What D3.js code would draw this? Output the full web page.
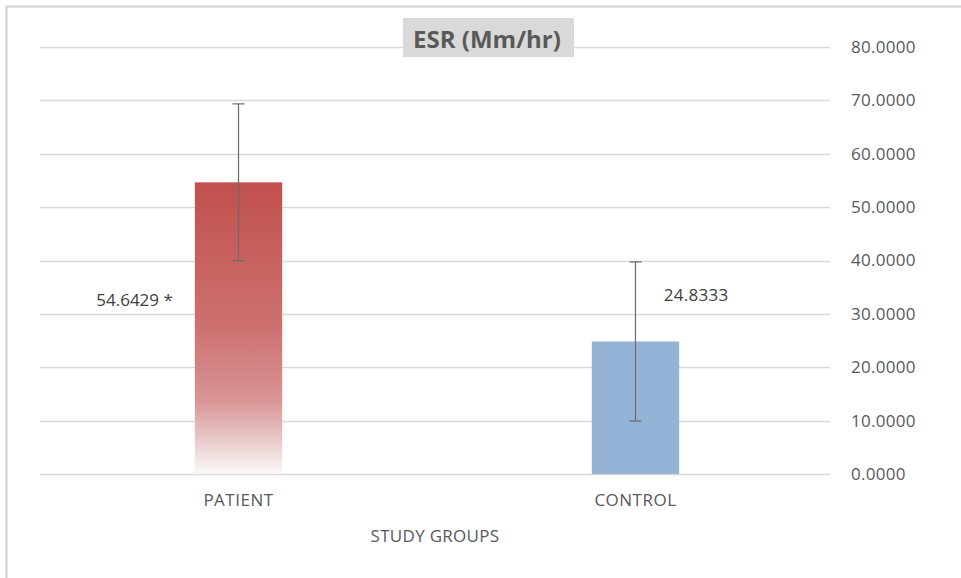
<!DOCTYPE html>
<html><head><meta charset="utf-8">
<script src="https://cdn.jsdelivr.net/npm/d3@7"></script>
<style>body{margin:0;background:#fff}svg{display:block}text{font-family:"Open Sans","Noto Sans",sans-serif}</style>
</head><body>
<svg id="c" width="961" height="578"></svg>
<script>
const categories = ["PATIENT", "CONTROL"];
const means = [54.6429, 24.8333];
const sds = [14.7, 14.9];
const labels = ["54.6429 *", "24.8333"];
const yTicks = [0, 10, 20, 30, 40, 50, 60, 70, 80];
const title = "ESR (Mm/hr)";
const xTitle = "STUDY GROUPS";

(function () {
const svg = d3.select("#c");
const W = 961, H = 578;
const mLeft = 40, mRight = 830, mTop = 47, mBottom = 474;

// outer border (top & left)
svg.append("line").attr("x1", 6).attr("x2", W).attr("y1", 6.5).attr("y2", 6.5).attr("stroke", "#d0d0d0").attr("stroke-width", 2);
svg.append("line").attr("x1", 6.5).attr("x2", 6.5).attr("y1", 6).attr("y2", H).attr("stroke", "#d0d0d0").attr("stroke-width", 2);

const x = d3.scaleBand().domain(categories).range([mLeft + 2, mRight + 2]).paddingInner(0.78).paddingOuter(0.385);
const y = d3.scaleLinear().domain([0, 80]).range([mBottom, mTop]);

// gridlines
svg.append("g").selectAll("line").data(yTicks).join("line")
  .attr("x1", mLeft).attr("x2", mRight)
  .attr("y1", d => Math.round(y(d)) + 0.5).attr("y2", d => Math.round(y(d)) + 0.5)
  .attr("stroke", "#d9d9d9").attr("stroke-width", 1.3);

// right axis labels
const ax = svg.append("g").attr("transform", `translate(${mRight},0)`)
  .call(d3.axisRight(y).tickValues(yTicks).tickFormat(d3.format(".4f")).tickSize(0).tickPadding(21));
ax.select(".domain").remove();
ax.selectAll("text").attr("fill", "#595959").attr("font-size", 17).attr("letter-spacing", 0.3);

// gradient
const defs = svg.append("defs");
const g = defs.append("linearGradient").attr("id", "redgrad").attr("x1", 0).attr("x2", 0).attr("y1", 0).attr("y2", 1);
[["0%", "#c0504d"], ["50%", "#cd7170"], ["75%", "#d99595"], ["90%", "#ead0d0"], ["100%", "#fcf8f8"]]
  .forEach(s => g.append("stop").attr("offset", s[0]).attr("stop-color", s[1]));
const fills = ["url(#redgrad)", "#95b3d7"];

svg.append("g").selectAll("rect").data(categories).join("rect")
  .attr("x", d => x(d)).attr("width", x.bandwidth())
  .attr("y", (d, i) => y(means[i])).attr("height", (d, i) => y(0) - y(means[i]))
  .attr("fill", (d, i) => fills[i]);

// error bars
const eb = svg.append("g").attr("stroke", "#6a6a6a").attr("stroke-width", 1.2);
categories.forEach((c, i) => {
  const cx = x(c) + x.bandwidth() / 2;
  const hi = y(means[i] + sds[i]), lo = y(means[i] - sds[i]);
  eb.append("line").attr("x1", cx).attr("x2", cx).attr("y1", hi).attr("y2", lo);
  eb.append("line").attr("x1", cx - 6).attr("x2", cx + 6).attr("y1", hi).attr("y2", hi);
  eb.append("line").attr("x1", cx - 6).attr("x2", cx + 6).attr("y1", lo).attr("y2", lo);
});

// data labels
svg.append("text").attr("x", x(categories[0]) - 22).attr("y", 306).attr("text-anchor", "end")
  .attr("font-size", 17).attr("fill", "#404040").text(labels[0]);
svg.append("text").attr("x", x(categories[1]) + x.bandwidth() + 17).attr("y", 301).attr("text-anchor", "middle")
  .attr("font-size", 17).attr("fill", "#404040").attr("letter-spacing", 0.3).text(labels[1]);

// category labels
svg.append("g").selectAll("text").data(categories).join("text")
  .attr("x", d => x(d) + x.bandwidth() / 2).attr("y", 506).attr("text-anchor", "middle")
  .attr("font-size", 17).attr("fill", "#595959").attr("letter-spacing", 0.5).text(d => d);

svg.append("text").attr("x", 435).attr("y", 542).attr("text-anchor", "middle")
  .attr("font-size", 17).attr("fill", "#595959").attr("letter-spacing", 0.3).text(xTitle);

// title with gray box
svg.append("rect").attr("x", 403).attr("y", 18).attr("width", 171).attr("height", 39).attr("fill", "#d9d9d9");
svg.append("text").attr("x", 487).attr("y", 48).attr("text-anchor", "middle")
  .attr("font-size", 24).attr("font-weight", "bold").attr("fill", "#595959").text(title);
})();
</script>
</body></html>
